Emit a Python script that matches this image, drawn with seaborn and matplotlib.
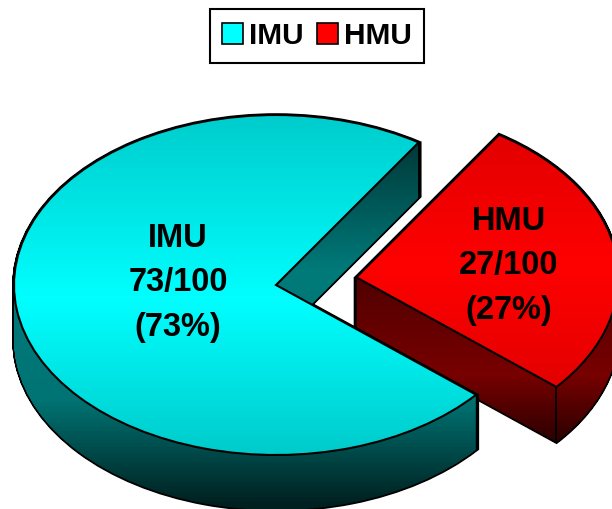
import numpy as np
import matplotlib
matplotlib.use('Agg')
import matplotlib.pyplot as plt
import seaborn as sns
from matplotlib.colors import LinearSegmentedColormap
from matplotlib.patches import PathPatch, Patch
from matplotlib.path import Path

names = ['IMU', 'HMU']
counts = [73, 27]
total = 100
explode = [0, 0.31]

sns.set_style('white')
plt.rcParams['font.family'] = ['Liberation Sans', 'DejaVu Sans']
palette = sns.color_palette(['#00ffff', '#ff0000'])

W, H = 612, 509
cx, cy, rx, ry = 276, 285, 262, 170
depth = 55 / ry

# vertical gradients, stops are fractions of the picture height from the top
top_stops = [
    [(0, '#00c0c0'), (115 / H, '#00cccc'), (300 / H, '#00ffff'), (450 / H, '#00cccc'), (1, '#00cccc')],
    [(0, '#e00000'), (132 / H, '#e20000'), (265 / H, '#ff0000'), (385 / H, '#e40000'), (1, '#e40000')],
]
wall_stops = [
    [(0, '#003030'), (142 / H, '#003838'), (270 / H, '#007a7a'), (400 / H, '#007474'), (505 / H, '#002020'), (1, '#002020')],
    [(0, '#500000'), (277 / H, '#500000'), (375 / H, '#780000'), (442 / H, '#2c0000'), (1, '#2c0000')],
]

fig = plt.figure(figsize=(W / 100, H / 100), dpi=100)
ax = fig.add_axes([0, 0, 1, 1])
wedges, _ = ax.pie(counts, explode=explode, startangle=57, colors=palette, radius=1)
ax.set_aspect('auto')
limits = (-cx / rx, (W - cx) / rx, -(H - cy) / ry, cy / ry)
grad = np.linspace(0, 1, H)[:, None]


def gradient(stops, clip, z):
    cmap = LinearSegmentedColormap.from_list('g', stops)
    im = ax.imshow(grad, cmap=cmap, vmin=0, vmax=1, extent=limits, aspect='auto',
                   origin='upper', zorder=z, interpolation='bilinear')
    im.set_clip_path(clip, transform=ax.transData)


# HMU goes behind IMU
for i, base in [(1, 1), (0, 11)]:
    wedge = wedges[i]
    path = wedge.get_path().transformed(wedge.get_patch_transform())
    layers = []
    for k in range(0, 56):
        layers.append(Path(path.vertices - [0, depth * k / 55], path.codes))
    body = Path.make_compound_path(*layers)

    ax.add_patch(PathPatch(body, facecolor='black', edgecolor='black', lw=2.6, zorder=base))
    gradient(wall_stops[i], body, base + 1)

    # edge between the flat side and the round side
    a = np.deg2rad(wedge.theta1)
    ex, ey = wedge.center[0] + np.cos(a), wedge.center[1] + np.sin(a)
    ax.plot([ex, ex], [ey, ey - depth], color='black', lw=1.3, zorder=base + 2)

    wedge.set_zorder(base + 3)
    wedge.set_edgecolor('none')
    gradient(top_stops[i], path, base + 4)
    ax.add_patch(PathPatch(path, facecolor='none', edgecolor='black', lw=1.5, zorder=base + 5,
                           joinstyle='miter'))

label_pos = [(-0.374, 0.012), (0.889, 0.112)]
for name, n, (tx, ty) in zip(names, counts, label_pos):
    ax.text(tx, ty, f'{name}\n{n}/{total}\n({round(100 * n / total)}%)', ha='center', va='center',
            fontsize=23.5, fontweight='bold', color='black', linespacing=1.55, zorder=30)

ax.set_xlim(limits[0], limits[1])
ax.set_ylim(limits[2], limits[3])

handles = [Patch(facecolor=c, edgecolor='black', lw=1.2) for c in palette]
leg = fig.legend(handles, names, ncol=2, loc='center', bbox_to_anchor=(317 / W, 1 - 36 / H),
                 prop={'size': 21.5, 'weight': 'bold'}, labelcolor='black', fancybox=False, framealpha=1,
                 edgecolor='black', handlelength=0.7, handleheight=0.7, handletextpad=0.2,
                 columnspacing=0.45, borderpad=0.42, borderaxespad=0)
leg.get_frame().set_linewidth(1.5)

fig.savefig('out.png', dpi=100)
